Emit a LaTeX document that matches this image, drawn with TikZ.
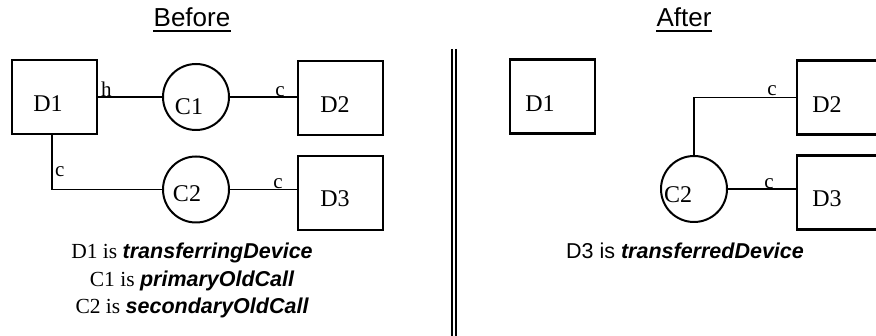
\documentclass[tikz,border=0pt]{standalone}
\usepackage{fontspec}
\setmainfont{Liberation Serif}
\setsansfont{Liberation Sans}
\newcommand\bolditsans[1]{{\sffamily\bfseries\itshape #1}}
\begin{document}
\begin{tikzpicture}[x=1pt,y=-1pt,
  box/.style={draw, line width=2.2pt, minimum width=85pt, minimum height=74pt, inner sep=0pt},
  call/.style={draw, circle, line width=2pt, minimum size=66pt, inner sep=0pt},
  conn/.style={line width=1.8pt},
  lbl/.style={font=\fontsize{24}{28}\selectfont, inner sep=0pt, anchor=base},
  tag/.style={font=\fontsize{21}{24}\selectfont, inner sep=0pt, anchor=base},
  captxt/.style={font=\fontsize{21.5}{26}\selectfont, inner sep=0pt, anchor=base},
  ttl/.style={font=\sffamily\fontsize{26}{30}\selectfont, inner sep=0pt, anchor=base},
  uline/.style={line width=1.3pt},
  sepline/.style={line width=2pt}]
\useasboundingbox (0,0) rectangle (876,336);
\clip (0,0) rectangle (876,336);

% ---------- Before ----------
\node[ttl] (tB) at (192,27) {Before};
\draw[uline] ([yshift=-4pt]tB.base west) -- ([yshift=-4pt]tB.base east);

\node[box] (bD1) at (54.5,97) {};
\node[lbl] (bD1t) at (48,112) {D1};
\node[call] (bC1) at (196,97) {};
\node[lbl] (bC1t) at (189,115) {C1};
\node[box] (bD2) at (340.5,98) {};
\node[lbl] (bD2t) at (335,113) {D2};
\node[call] (bC2) at (196,189.5) {};
\node[lbl] (bC2t) at (187,202) {C2};
\node[box] (bD3) at (340.5,193) {};
\node[lbl] (bD3t) at (335,207) {D3};

\draw[conn] (bD1.east) -- (bC1.west);
\draw[conn] (bC1.east) -- (bC1.east -| bD2.west);
\coordinate (bD1s) at (52,134);
\draw[conn] (bD1s) |- (bC2.west);
\draw[conn] (bC2.east) -- (bC2.east -| bD3.west);

\node[tag, anchor=base west] (th) at (101,97) {h};
\node[tag] (tc1) at (280,97) {c};
\node[tag, anchor=base west] (tc2) at (55,177) {c};
\node[tag] (tc3) at (278,189) {c};

\node[captxt] (cap1) at (192,259) {D1 is \bolditsans{transferringDevice}};
\node[captxt] (cap2) at (192,287) {C1 is \bolditsans{primaryOldCall}};
\node[captxt] (cap3) at (192,314) {C2 is \bolditsans{secondaryOldCall}};

% ---------- separator ----------
\draw[sepline] (452,49) -- (452,336);
\draw[sepline] (456,49) -- (456,336);

% ---------- After ----------
\node[ttl] (tA) at (684,27) {After};
\draw[uline] ([yshift=-4pt]tA.base west) -- ([yshift=-4pt]tA.base east);

\node[box] (aD1) at (552.5,96.5) {};
\node[lbl] (aD1t) at (540,112) {D1};
\node[box] (aD2) at (839.5,97.5) {};
\node[lbl] (aD2t) at (827,113) {D2};
\node[box] (aD3) at (839.5,192.5) {};
\node[lbl] (aD3t) at (827,207) {D3};
\node[call] (aC2) at (694,189) {};
\node[lbl] (aC2t) at (678,203) {C2};

\draw[conn] (aC2.north) |- (aD2.west);
\draw[conn] (aC2.east) -- (aC2.east -| aD3.west);

\node[tag] (ac1) at (772,96) {c};
\node[tag] (ac2) at (769,189) {c};

\node[captxt] (cap4) at (685,259) {\sffamily D3 is \bolditsans{transferredDevice}};
\end{tikzpicture}
\end{document}
